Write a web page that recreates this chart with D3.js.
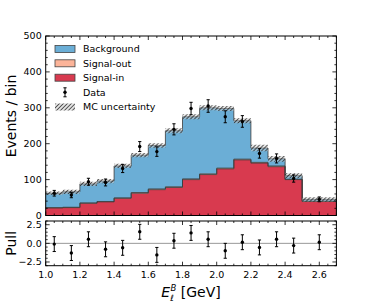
<!DOCTYPE html>
<html>
<head>
<meta charset="utf-8">
<script src="https://cdn.jsdelivr.net/npm/d3@7"></script>
<style>
  body { margin: 0; background: #ffffff; }
  text { font-family: "DejaVu Sans", sans-serif; fill: #000; }
</style>
</head>
<body>
<script>
// Bin edges of the histogram (last bin is wider)
const binEdges = [1.0, 1.1, 1.2, 1.3, 1.4, 1.5, 1.6, 1.7, 1.8, 1.9, 2.0, 2.1, 2.2, 2.3, 2.4, 2.5, 2.7];

// Stacked MC components (events / bin)
const signalIn = [21, 22, 34, 38, 48, 62, 72, 78, 100, 114, 130, 155, 146, 136, 100, 39];
const signalOut = [1, 1, 1, 1, 1, 2, 2, 2, 2, 2, 2, 2, 2, 2, 1, 1];
const background = [40, 43, 53, 57, 89, 104, 121, 156, 173, 184, 166, 107, 40, 20, 10, 5];
const mcUnc = [5, 6, 6, 6, 6, 6, 6, 7, 7, 7, 7, 7, 9, 8, 7, 6];

// Data
const dataCounts = [62, 57, 94, 92, 131, 192, 178, 240, 298, 305, 275, 262, 173, 159, 103, 45];
const dataErr = [7.9, 7.5, 9.7, 9.6, 11.4, 13.9, 13.3, 15.5, 17.3, 17.5, 16.6, 16.2, 13.2, 12.6, 10.1, 6.7];
const pulls = [-0.1, -1.3, 0.55, -0.8, -0.6, 1.55, -1.55, 0.35, 1.4, 0.55, -1.0, 0.15, -0.55, 0.55, -0.3, 0.15];
const pullErr = [1, 1, 1, 1, 1, 1, 1, 1, 1, 1, 1, 1, 1, 1, 1, 1];

// Axis ticks
const xTicks = [1.0, 1.2, 1.4, 1.6, 1.8, 2.0, 2.2, 2.4, 2.6];
const yTicks = [0, 100, 200, 300, 400, 500];
const pullTicks = [-2.5, 0.0, 2.5];

const legendItems = [
  { label: 'Background', kind: 'box', color: '#6baed6' },
  { label: 'Signal-out', kind: 'box', color: '#fcb499' },
  { label: 'Signal-in', kind: 'box', color: '#d83a4f' },
  { label: 'Data', kind: 'data' },
  { label: 'MC uncertainty', kind: 'hatch' },
];

const W = 374, H = 304;
const left = 45.7, right = 336.4;
const mainTop = 36, mainBottom = 215.5;
const pullTop = 221, pullBottom = 265.7;

const svg = d3.select('body').append('svg')
  .attr('width', W).attr('height', H)
  .attr('xmlns', 'http://www.w3.org/2000/svg');

const defs = svg.append('defs');
const pat = defs.append('pattern')
  .attr('id', 'hatch')
  .attr('patternUnits', 'userSpaceOnUse')
  .attr('width', 2.8).attr('height', 2.8)
  .attr('patternTransform', 'rotate(45)');
pat.append('rect').attr('width', 2.8).attr('height', 2.8).attr('fill', 'rgba(200,200,200,0.45)');
pat.append('line').attr('x1', 0).attr('y1', 0).attr('x2', 0).attr('y2', 2.8)
  .attr('stroke', '#111').attr('stroke-width', 1.3);

const x = d3.scaleLinear().domain([1.0, 2.7]).range([left, right]);
const y = d3.scaleLinear().domain([0, 500]).range([mainBottom, mainTop]);
const yp = d3.scaleLinear().domain([-3, 3]).range([pullBottom, pullTop]);

const nBins = binEdges.length - 1;
const bins = d3.range(nBins).map(i => {
  const lo = signalIn[i];
  const mid = lo + signalOut[i];
  const top = mid + background[i];
  return {
    x0: binEdges[i], x1: binEdges[i + 1], xc: (binEdges[i] + binEdges[i + 1]) / 2,
    sIn: lo, sOut: mid, total: top, unc: mcUnc[i],
    data: dataCounts[i], err: dataErr[i], pull: pulls[i], perr: pullErr[i],
  };
});

// step points for a layer
function stepPoints(get0, get1) {
  const pts = [];
  for (const b of bins) {
    pts.push({ x: b.x0, y0: get0(b), y1: get1(b) });
    pts.push({ x: b.x1, y0: get0(b), y1: get1(b) });
  }
  return pts;
}

const area = d3.area().x(d => x(d.x)).y0(d => y(d.y0)).y1(d => y(d.y1));
const topLine = d3.line().x(d => x(d.x)).y(d => y(d.y1));

const layers = [
  { color: '#d83a4f', g0: () => 0, g1: b => b.sIn },
  { color: '#fcb499', g0: b => b.sIn, g1: b => b.sOut },
  { color: '#6baed6', g0: b => b.sOut, g1: b => b.total },
];

const main = svg.append('g');
for (const L of layers) {
  const pts = stepPoints(L.g0, L.g1);
  main.append('path').attr('d', area(pts)).attr('fill', L.color).attr('stroke', 'none');
}
for (const L of layers) {
  const pts = stepPoints(L.g0, L.g1);
  main.append('path').attr('d', topLine(pts)).attr('fill', 'none')
    .attr('stroke', '#3a3a3a').attr('stroke-width', 0.8);
}
// vertical edge at right end to baseline
main.append('path')
  .attr('d', `M${x(2.7)},${y(bins[nBins - 1].total)}V${y(0)}`)
  .attr('stroke', '#3a3a3a').attr('stroke-width', 0.8);

// MC uncertainty band
const uncPts = stepPoints(b => b.total - b.unc, b => b.total + b.unc);
main.append('path').attr('d', area(uncPts)).attr('fill', 'url(#hatch)').attr('stroke', 'none');

// data points
function errorBars(g, items, xs, ys, val, err) {
  const cap = 1.6;
  const e = g.selectAll(null).data(items).enter().append('g');
  e.append('line')
    .attr('x1', d => xs(d.xc)).attr('x2', d => xs(d.xc))
    .attr('y1', d => ys(val(d) - err(d))).attr('y2', d => ys(val(d) + err(d)))
    .attr('stroke', '#000').attr('stroke-width', 1);
  e.append('line')
    .attr('x1', d => xs(d.xc) - cap).attr('x2', d => xs(d.xc) + cap)
    .attr('y1', d => ys(val(d) - err(d))).attr('y2', d => ys(val(d) - err(d)))
    .attr('stroke', '#000').attr('stroke-width', 1);
  e.append('line')
    .attr('x1', d => xs(d.xc) - cap).attr('x2', d => xs(d.xc) + cap)
    .attr('y1', d => ys(val(d) + err(d))).attr('y2', d => ys(val(d) + err(d)))
    .attr('stroke', '#000').attr('stroke-width', 1);
  e.append('circle')
    .attr('cx', d => xs(d.xc)).attr('cy', d => ys(val(d)))
    .attr('r', 1.7).attr('fill', '#000');
}
errorBars(main, bins, x, y, d => d.data, d => d.err);

// pull panel
const pull = svg.append('g');
pull.append('line')
  .attr('x1', left).attr('x2', right).attr('y1', yp(0)).attr('y2', yp(0))
  .attr('stroke', '#999').attr('stroke-width', 1);
errorBars(pull, bins, x, yp, d => d.pull, d => d.perr);

// frames and ticks
function frame(top, bottom, ys, majorY, minorY, showXLabels, labelFmt) {
  const g = svg.append('g');
  g.append('rect').attr('x', left).attr('y', top)
    .attr('width', right - left).attr('height', bottom - top)
    .attr('fill', 'none').attr('stroke', '#000').attr('stroke-width', 1);
  const xMinor = d3.range(1.0, 2.7001, 0.05);
  const tk = (x1, y1, x2, y2) => g.append('line')
    .attr('x1', x1).attr('y1', y1).attr('x2', x2).attr('y2', y2)
    .attr('stroke', '#000').attr('stroke-width', 0.8);
  for (const v of xMinor) {
    const isMajor = xTicks.some(t => Math.abs(t - v) < 1e-6);
    const len = isMajor ? 4 : 2;
    tk(x(v), bottom, x(v), bottom - len);
    tk(x(v), top, x(v), top + len);
  }
  for (const v of minorY) {
    const isMajor = majorY.some(t => Math.abs(t - v) < 1e-6);
    const len = isMajor ? 4 : 2;
    tk(left, ys(v), left + len, ys(v));
    tk(right, ys(v), right - len, ys(v));
  }
  g.selectAll(null).data(majorY).enter().append('text')
    .attr('x', left - 4).attr('y', d => ys(d)).attr('dy', '0.35em')
    .attr('text-anchor', 'end').style('font-size', '9.5px')
    .text(labelFmt);
  if (showXLabels) {
    g.selectAll(null).data(xTicks).enter().append('text')
      .attr('x', d => x(d)).attr('y', bottom + 12)
      .attr('text-anchor', 'middle').style('font-size', '9.5px')
      .text(d => d3.format('.1f')(d));
  }
}
frame(mainTop, mainBottom, y, yTicks, d3.range(0, 501, 20), false, d => d);
frame(pullTop, pullBottom, yp, pullTicks, d3.range(-3, 3.001, 0.5), true,
  d => d3.format('.1f')(d).replace('-', '\u2212'));

// axis labels
svg.append('text')
  .attr('transform', `translate(16,116) rotate(-90)`)
  .attr('text-anchor', 'middle').style('font-size', '14px')
  .text('Events / bin');
svg.append('text')
  .attr('transform', `translate(16,${(pullTop + pullBottom) / 2}) rotate(-90)`)
  .attr('text-anchor', 'middle').style('font-size', '14px')
  .text('Pull');

const xl = svg.append('text')
  .attr('x', (left + right) / 2).attr('y', 297)
  .attr('text-anchor', 'middle').style('font-size', '14px');
xl.append('tspan').style('font-style', 'italic').text('E');
xl.append('tspan').attr('dy', 4).style('font-size', '8.5px').style('font-style', 'italic').text('\u2113');
xl.append('tspan').attr('dy', -10.5).attr('dx', -3.2).style('font-size', '8.5px').style('font-style', 'italic').text('B');
xl.append('tspan').attr('dy', 6.5).text(' [GeV]');

// legend
const leg = svg.append('g');
const rowY = [49, 63.3, 77.7, 92.3, 107];
legendItems.forEach((it, i) => {
  const cy = rowY[i];
  if (it.kind === 'box') {
    leg.append('rect').attr('x', 55).attr('y', cy - 3.5).attr('width', 20).attr('height', 7)
      .attr('fill', it.color).attr('stroke', '#444').attr('stroke-width', 0.8);
  } else if (it.kind === 'hatch') {
    leg.append('rect').attr('x', 55).attr('y', cy - 3.5).attr('width', 20).attr('height', 7)
      .attr('fill', 'url(#hatch)');
  } else {
    leg.append('line').attr('x1', 65).attr('x2', 65).attr('y1', cy - 4.5).attr('y2', cy + 4.5)
      .attr('stroke', '#000').attr('stroke-width', 1);
    leg.append('line').attr('x1', 63.4).attr('x2', 66.6).attr('y1', cy - 4.5).attr('y2', cy - 4.5)
      .attr('stroke', '#000').attr('stroke-width', 1);
    leg.append('line').attr('x1', 63.4).attr('x2', 66.6).attr('y1', cy + 4.5).attr('y2', cy + 4.5)
      .attr('stroke', '#000').attr('stroke-width', 1);
    leg.append('circle').attr('cx', 65).attr('cy', cy).attr('r', 1.7).attr('fill', '#000');
  }
  leg.append('text').attr('x', 83).attr('y', cy).attr('dy', '0.35em')
    .style('font-size', '9.5px').text(it.label);
});
</script>
</body>
</html>
